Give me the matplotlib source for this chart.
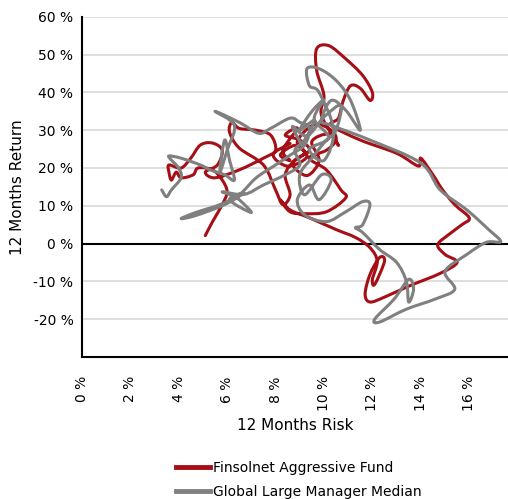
import matplotlib
matplotlib.use("Agg")
import matplotlib.pyplot as plt
import numpy as np
from matplotlib.path import Path
from matplotlib.patches import PathPatch
from matplotlib.lines import Line2D

# 12 months risk (x, %) and 12 months return (y, %)
fund_risk = [5.1, 5.4, 5.8, 6.0, 5.8, 5.4, 4.8, 4.6, 4.1, 3.9, 3.7, 3.6, 3.6, 4.1, 4.5, 4.9,
             5.4, 5.8, 5.6, 5.1, 5.5, 6.5, 7.5, 8.0, 7.8, 7.2, 6.5, 6.2, 6.1, 6.5, 7.5, 8.0,
             8.3, 8.6, 8.4, 8.8, 9.4, 9.0, 8.4, 8.9, 8.3, 8.6, 8.2, 8.8, 9.2, 8.7, 9.3, 9.8,
             9.5, 10.2, 10.6, 9.9, 10.0, 9.7, 9.7, 10.2, 10.9, 11.6,
             12.0, 11.9, 11.5, 11.1, 10.8, 10.6, 10.3, 11.5, 13.0, 13.9, 14.0, 14.5, 14.9, 15.4,
             16.0, 15.7, 15.2, 14.7, 15.0, 15.5, 14.8, 13.5, 12.5, 11.9, 11.7, 11.9, 12.3, 12.5,
             12.1, 12.0, 12.2, 11.9, 11.3, 10.5, 9.4, 8.6, 8.2, 8.6, 9.2, 10.1, 10.9, 10.7,
             10.1, 9.4, 10.1, 10.5, 10.3, 9.6, 8.9, 9.3, 8.5, 7.9, 8.6]
fund_return = [2.1, 5.8, 10.3, 13.7, 16.8, 19.5, 20.0, 18.2, 17.4, 18.9, 16.8, 18.9, 20.8, 20.0, 22.6, 26.1,
               26.6, 24.7, 20.8, 18.9, 17.4, 19.5, 22.6, 24.7, 28.7, 30.0, 30.5, 32.1, 29.5, 25.3, 20.8, 14.2,
               10.3, 12.9, 18.2, 22.1, 24.7, 27.4, 28.7, 30.5, 24.7, 22.0, 23.5, 26.0, 24.0, 21.0, 18.0, 22.0,
               27.0, 29.0, 26.0, 33.9, 39.2, 45.8, 51.6, 52.4, 48.9, 44.5,
               40.0, 37.9, 41.1, 41.8, 37.9, 33.2, 31.3, 27.4, 23.9, 20.5, 22.6, 18.2, 14.2, 10.3,
               6.8, 5.0, 2.6, -0.3, -2.9, -5.0, -7.9, -11.3, -14.2, -15.5, -13.4, -8.2, -3.7, -4.7,
               -10.8, -9.5, -4.7, -1.1, 1.6, 3.7, 6.8, 8.9, 11.6, 8.4, 7.9, 8.4, 12.1, 14.2,
               19.5, 22.6, 24.7, 27.4, 30.0, 31.5, 27.0, 23.0, 20.5, 23.5, 26.5]

median_risk = [3.3, 3.5, 3.7, 4.1, 4.0, 3.7, 3.6, 4.1, 4.9, 5.3, 5.9, 6.3, 6.1, 5.9, 5.7, 6.0,
               6.3, 5.5, 6.5, 7.3, 7.8, 8.6, 9.0, 9.4, 9.2, 8.6, 8.0, 7.2, 6.5, 5.7, 4.7, 4.1,
               4.7, 5.9, 6.7, 6.1, 7.0, 6.4, 5.8, 6.7, 7.5, 8.4, 9.0, 8.8, 9.2, 9.6, 9.0, 9.5,
               10.0, 9.6, 10.2, 9.4, 10.0, 10.4, 9.8, 9.4,
               9.3, 9.8, 10.5, 11.1, 11.5, 10.9, 10.3, 9.9, 10.3, 11.9, 14.0, 14.8, 15.9, 16.8,
               17.3, 16.7, 15.9, 15.0, 15.4, 14.6, 13.4, 12.3, 12.1, 12.9, 13.5, 13.7, 13.5, 13.4,
               13.0, 12.3, 11.6, 11.3, 11.6, 11.9, 11.6, 10.9, 10.1, 9.2, 8.9, 9.4, 9.8, 10.3,
               9.9, 9.2, 9.0, 9.6, 10.1, 10.5, 10.7, 10.0, 9.3, 8.7, 9.1]
median_return = [14.2, 12.4, 14.2, 17.4, 20.0, 22.1, 23.2, 22.6, 20.8, 19.5, 18.2, 16.8, 22.1, 27.4, 18.9, 24.7,
                 31.3, 35.0, 32.1, 29.2, 30.5, 33.2, 32.1, 30.5, 26.1, 23.4, 20.8, 17.4, 12.9, 10.3, 8.2, 6.6,
                 7.4, 10.3, 13.4, 11.6, 8.2, 12.1, 13.7, 13.0, 15.5, 18.2, 20.8, 24.7, 27.4, 32.6, 30.0, 35.0,
                 38.0, 33.0, 28.0, 25.0, 22.0, 30.0, 40.0, 41.8,
                 46.3, 46.3, 43.2, 37.9, 30.0, 35.3, 37.9, 32.6, 31.3, 27.4, 21.3, 14.2, 8.9, 3.7,
                 0.5, 0.3, -2.9, -7.4, -12.1, -14.7, -17.4, -20.8, -20.0, -14.7, -9.5, -12.1, -15.5, -10.0,
                 -5.0, -1.6, 2.9, 4.2, 5.0, 10.3, 11.1, 8.4, 5.8, 7.6, 11.6, 15.5, 11.6, 16.8,
                 18.2, 12.9, 18.2, 23.4, 27.4, 30.0, 36.6, 33.5, 28.5, 31.0, 26.0]

series_names = ["Finsolnet Aggressive Fund", "Global Large Manager Median"]
series_colors = ["#a50f15", "#808080"]

x_ticks = [0, 2, 4, 6, 8, 10, 12, 14, 16]
y_ticks = [-20, -10, 0, 10, 20, 30, 40, 50, 60]


def smooth_path(xs, ys):
    # Catmull-Rom style curve through the points (like Excel's smoothed line)
    pts = np.column_stack([xs, ys])
    n = len(pts)
    verts = [pts[0]]
    codes = [Path.MOVETO]
    for i in range(n - 1):
        p0 = pts[max(i - 1, 0)]
        p1 = pts[i]
        p2 = pts[i + 1]
        p3 = pts[min(i + 2, n - 1)]
        c1 = p1 + (p2 - p0) / 6.0
        c2 = p2 - (p3 - p1) / 6.0
        verts += [c1, c2, p2]
        codes += [Path.CURVE4] * 3
    return Path(verts, codes)


fig = plt.figure(figsize=(5.08, 4.99), dpi=100)
ax = fig.add_axes([0.161, 0.285, 0.839, 0.681])

for yv in y_ticks:
    if yv != 0:
        ax.axhline(yv, color="#d9d9d9", lw=1.2, zorder=0)
ax.axhline(0, color="black", lw=1.5, zorder=1)

for xs, ys, c in [(fund_risk, fund_return, series_colors[0]),
                  (median_risk, median_return, series_colors[1])]:
    ax.add_patch(PathPatch(smooth_path(xs, ys), fill=False, edgecolor=c, lw=2.2,
                           capstyle="round", joinstyle="round", zorder=3))

ax.set_xlim(0, 17.6)
ax.set_ylim(-30, 60)
ax.set_xticks(x_ticks)
ax.set_xticklabels([f"{v} %" for v in x_ticks], rotation=90, fontsize=10)
ax.set_yticks(y_ticks)
ax.set_yticklabels([f"{v} %" for v in y_ticks], fontsize=10)
ax.tick_params(axis="y", length=0, pad=6)
ax.tick_params(axis="x", length=0, pad=14)
for s in ["top", "right"]:
    ax.spines[s].set_visible(False)
for s in ["left", "bottom"]:
    ax.spines[s].set_linewidth(1.5)
    ax.spines[s].set_color("black")

ax.set_xlabel("12 Months Risk", fontsize=11, labelpad=5)
ax.set_ylabel("12 Months Return", fontsize=11, labelpad=6)

handles = [Line2D([], [], color=c, lw=3.5) for c in series_colors]
fig.legend(handles, series_names, loc="upper left", bbox_to_anchor=(0.335, 0.088),
           frameon=False, fontsize=10, handlelength=2.5, handletextpad=0.2,
           labelspacing=0.75, borderaxespad=0)

fig.savefig("out.png", dpi=100)
